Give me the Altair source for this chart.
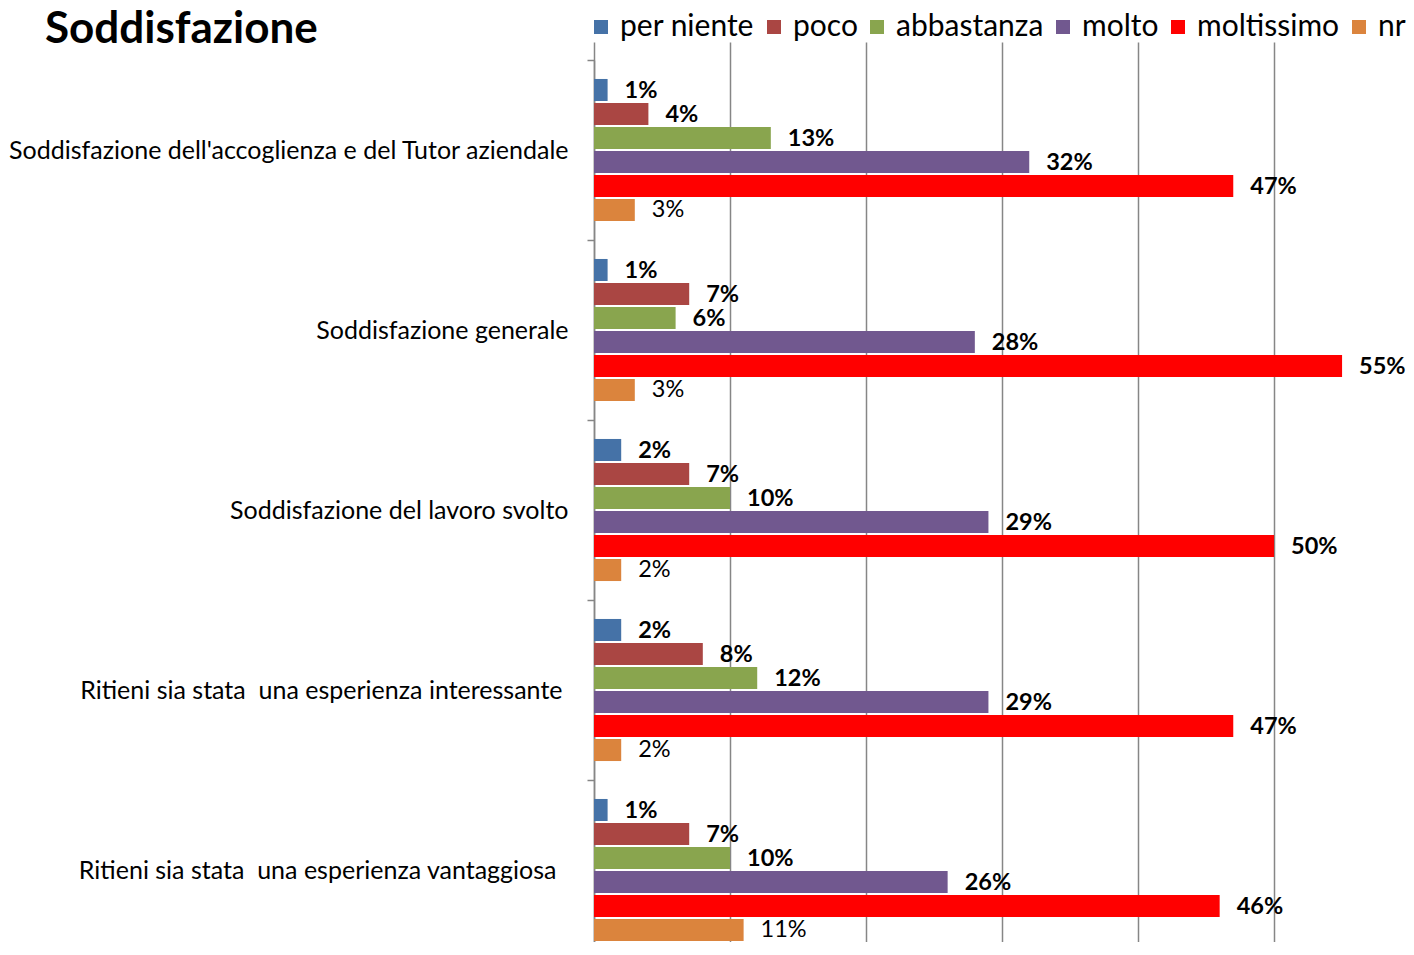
import altair as alt
import pandas as pd

categories = [
    "Soddisfazione dell'accoglienza e del Tutor aziendale",
    "Soddisfazione generale",
    "Soddisfazione del lavoro svolto",
    "Ritieni sia stata\u00a0 una esperienza interessante",
    "Ritieni sia stata\u00a0 una esperienza vantaggiosa",
]
series = ["per niente", "poco", "abbastanza", "molto", "moltissimo", "nr"]
colors = ["#4572A7", "#AA4643", "#89A54E", "#71588F", "#FF0000", "#DB843D"]

per_niente = [1, 1, 2, 2, 1]
poco = [4, 7, 7, 8, 7]
abbastanza = [13, 6, 10, 12, 10]
molto = [32, 28, 29, 29, 26]
moltissimo = [47, 55, 50, 47, 46]
nr = [3, 3, 2, 2, 11]

values = [per_niente, poco, abbastanza, molto, moltissimo, nr]
rows = []
for s, vals in zip(series, values):
    for c, v in zip(categories, vals):
        rows.append({"cat": c, "series": s, "value": v, "label": f"{v}%"})
df = pd.DataFrame(rows)

FONT = "Lato"

label_pad = {
    "condition": [
        {"test": "indexof(datum.label, 'interessante') >= 0", "value": 25},
        {"test": "indexof(datum.label, 'vantaggiosa') >= 0", "value": 31},
    ],
    "value": 19,
}

base = alt.Chart(df).encode(
    y=alt.Y(
        "cat:N",
        sort=categories,
        scale=alt.Scale(paddingInner=0, paddingOuter=0, range=[0, 900]),
        axis=alt.Axis(
            title=None,
            domainColor="#868686",
            domainWidth=1.5,
            tickColor="#868686",
            tickSize=7,
            tickWidth=1.5,
            tickBand="extent",
            labelFont=FONT,
            labelFontSize=25,
            labelColor="black",
            labelPadding=label_pad,
            labelLimit=800,
            grid=False,
        ),
    ),
    yOffset=alt.YOffset(
        "series:N",
        sort=series,
        scale=alt.Scale(paddingInner=0.083, paddingOuter=0.79),
    ),
)

xscale = alt.Scale(domain=[0, 59.7], nice=False)

bars = base.mark_bar().encode(
    x=alt.X(
        "value:Q",
        scale=xscale,
        axis=alt.Axis(
            title=None,
            labels=False,
            ticks=False,
            domain=False,
            grid=True,
            values=[0, 10, 20, 30, 40, 50],
            gridColor="#868686",
            gridWidth=1.5,
        ),
    ),
    color=alt.Color(
        "series:N",
        sort=series,
        scale=alt.Scale(domain=series, range=colors),
        legend=alt.Legend(
            title=None,
            orient="none",
            legendX=-8,
            legendY=-48,
            direction="horizontal",
            padding=0,
            symbolType="square",
            symbolSize=196,
            symbolStrokeWidth=0,
            labelFont=FONT,
            labelFontSize=30,
            labelColor="black",
            labelOffset=4,
            columnPadding=4,
            labelLimit=400,
        ),
    ),
)

labels_bold = (
    base.transform_filter(alt.datum.series != "nr")
    .mark_text(align="left", baseline="middle", dx=17, dy=1, font=FONT,
               fontSize=23.5, fontWeight="bold", color="black")
    .encode(x=alt.X("value:Q", scale=xscale), text="label:N")
)
labels_nr = (
    base.transform_filter(alt.datum.series == "nr")
    .mark_text(align="left", baseline="middle", dx=17, dy=0, font=FONT,
               fontSize=23.5, fontWeight="normal", color="black")
    .encode(x=alt.X("value:Q", scale=xscale), text="label:N")
)

title_df = pd.DataFrame({"t": ["Soddisfazione"]})
title = alt.Chart(title_df).mark_text(
    align="left", baseline="alphabetic", font=FONT, fontSize=44,
    fontWeight="bold", color="black"
).encode(x=alt.value(-549), y=alt.value(-17), text="t:N")

chart = (
    alt.layer(bars, labels_bold, labels_nr, title)
    .properties(
        width=812,
        height=882,
        padding={"left": 586, "top": 52, "right": 0, "bottom": 0},
        autosize=alt.AutoSizeParams(type="none"),
    )
    .configure_view(stroke=None)
)

chart.save("out.html", embed_options={"renderer": "svg", "actions": False})
